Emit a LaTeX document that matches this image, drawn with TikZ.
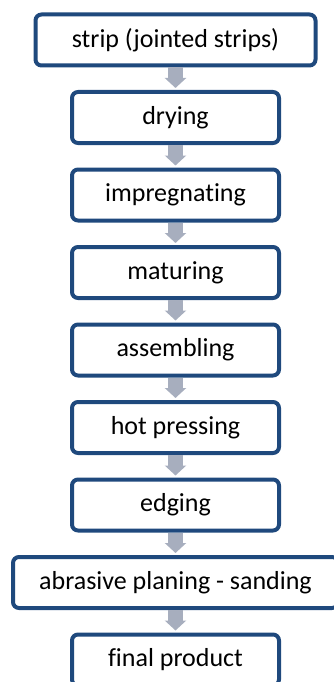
\documentclass[tikz,border=0pt]{standalone}
\usepackage{fontspec}
\setmainfont{Carlito}[Ligatures=CommonOff]
\usepackage{tikz}
\usetikzlibrary{positioning}
\usetikzlibrary{arrows.meta}
\usepackage{xcolor}
\definecolor{boxblue}{HTML}{1F497D}
\definecolor{arrowgray}{HTML}{A7AEBE}

\begin{document}
\begin{tikzpicture}[
  font=\fontsize{26}{30}\selectfont,
  node distance=22.5pt,
  procbox/.style={draw=boxblue, line width=4pt, rounded corners=6pt, fill=white,
    minimum width=207pt, minimum height=51pt, inner sep=0pt},
  flowarrow/.style={draw=arrowgray, line width=15pt,
    -{Triangle[width=21pt, length=10pt]}, shorten >=2pt}
]
\useasboundingbox (0,0) rectangle (334pt,-682pt);

% Process steps
\node[procbox, minimum width=280pt] (strip) at (175.5pt,-40pt) {strip (jointed strips)};
\node[procbox, below=of strip] (drying) {drying};
\node[procbox, below=of drying] (impreg) {impregnating};
\node[procbox, below=of impreg] (maturing) {maturing};
\node[procbox, below=of maturing] (assembling) {assembling};
\node[procbox, below=of assembling] (hotpress) {hot pressing};
\node[procbox, below=of hotpress] (edging) {edging};
\node[procbox, below=of edging, minimum width=325pt] (sanding) {abrasive planing - sanding};
\node[procbox, below=of sanding] (final) {final product};

% Block arrows between the steps
\draw[flowarrow] (strip) -- (drying);
\draw[flowarrow] (drying) -- (impreg);
\draw[flowarrow] (impreg) -- (maturing);
\draw[flowarrow] (maturing) -- (assembling);
\draw[flowarrow] (assembling) -- (hotpress);
\draw[flowarrow] (hotpress) -- (edging);
\draw[flowarrow] (edging) -- (sanding);
\draw[flowarrow] (sanding) -- (final);

\end{tikzpicture}
\end{document}
